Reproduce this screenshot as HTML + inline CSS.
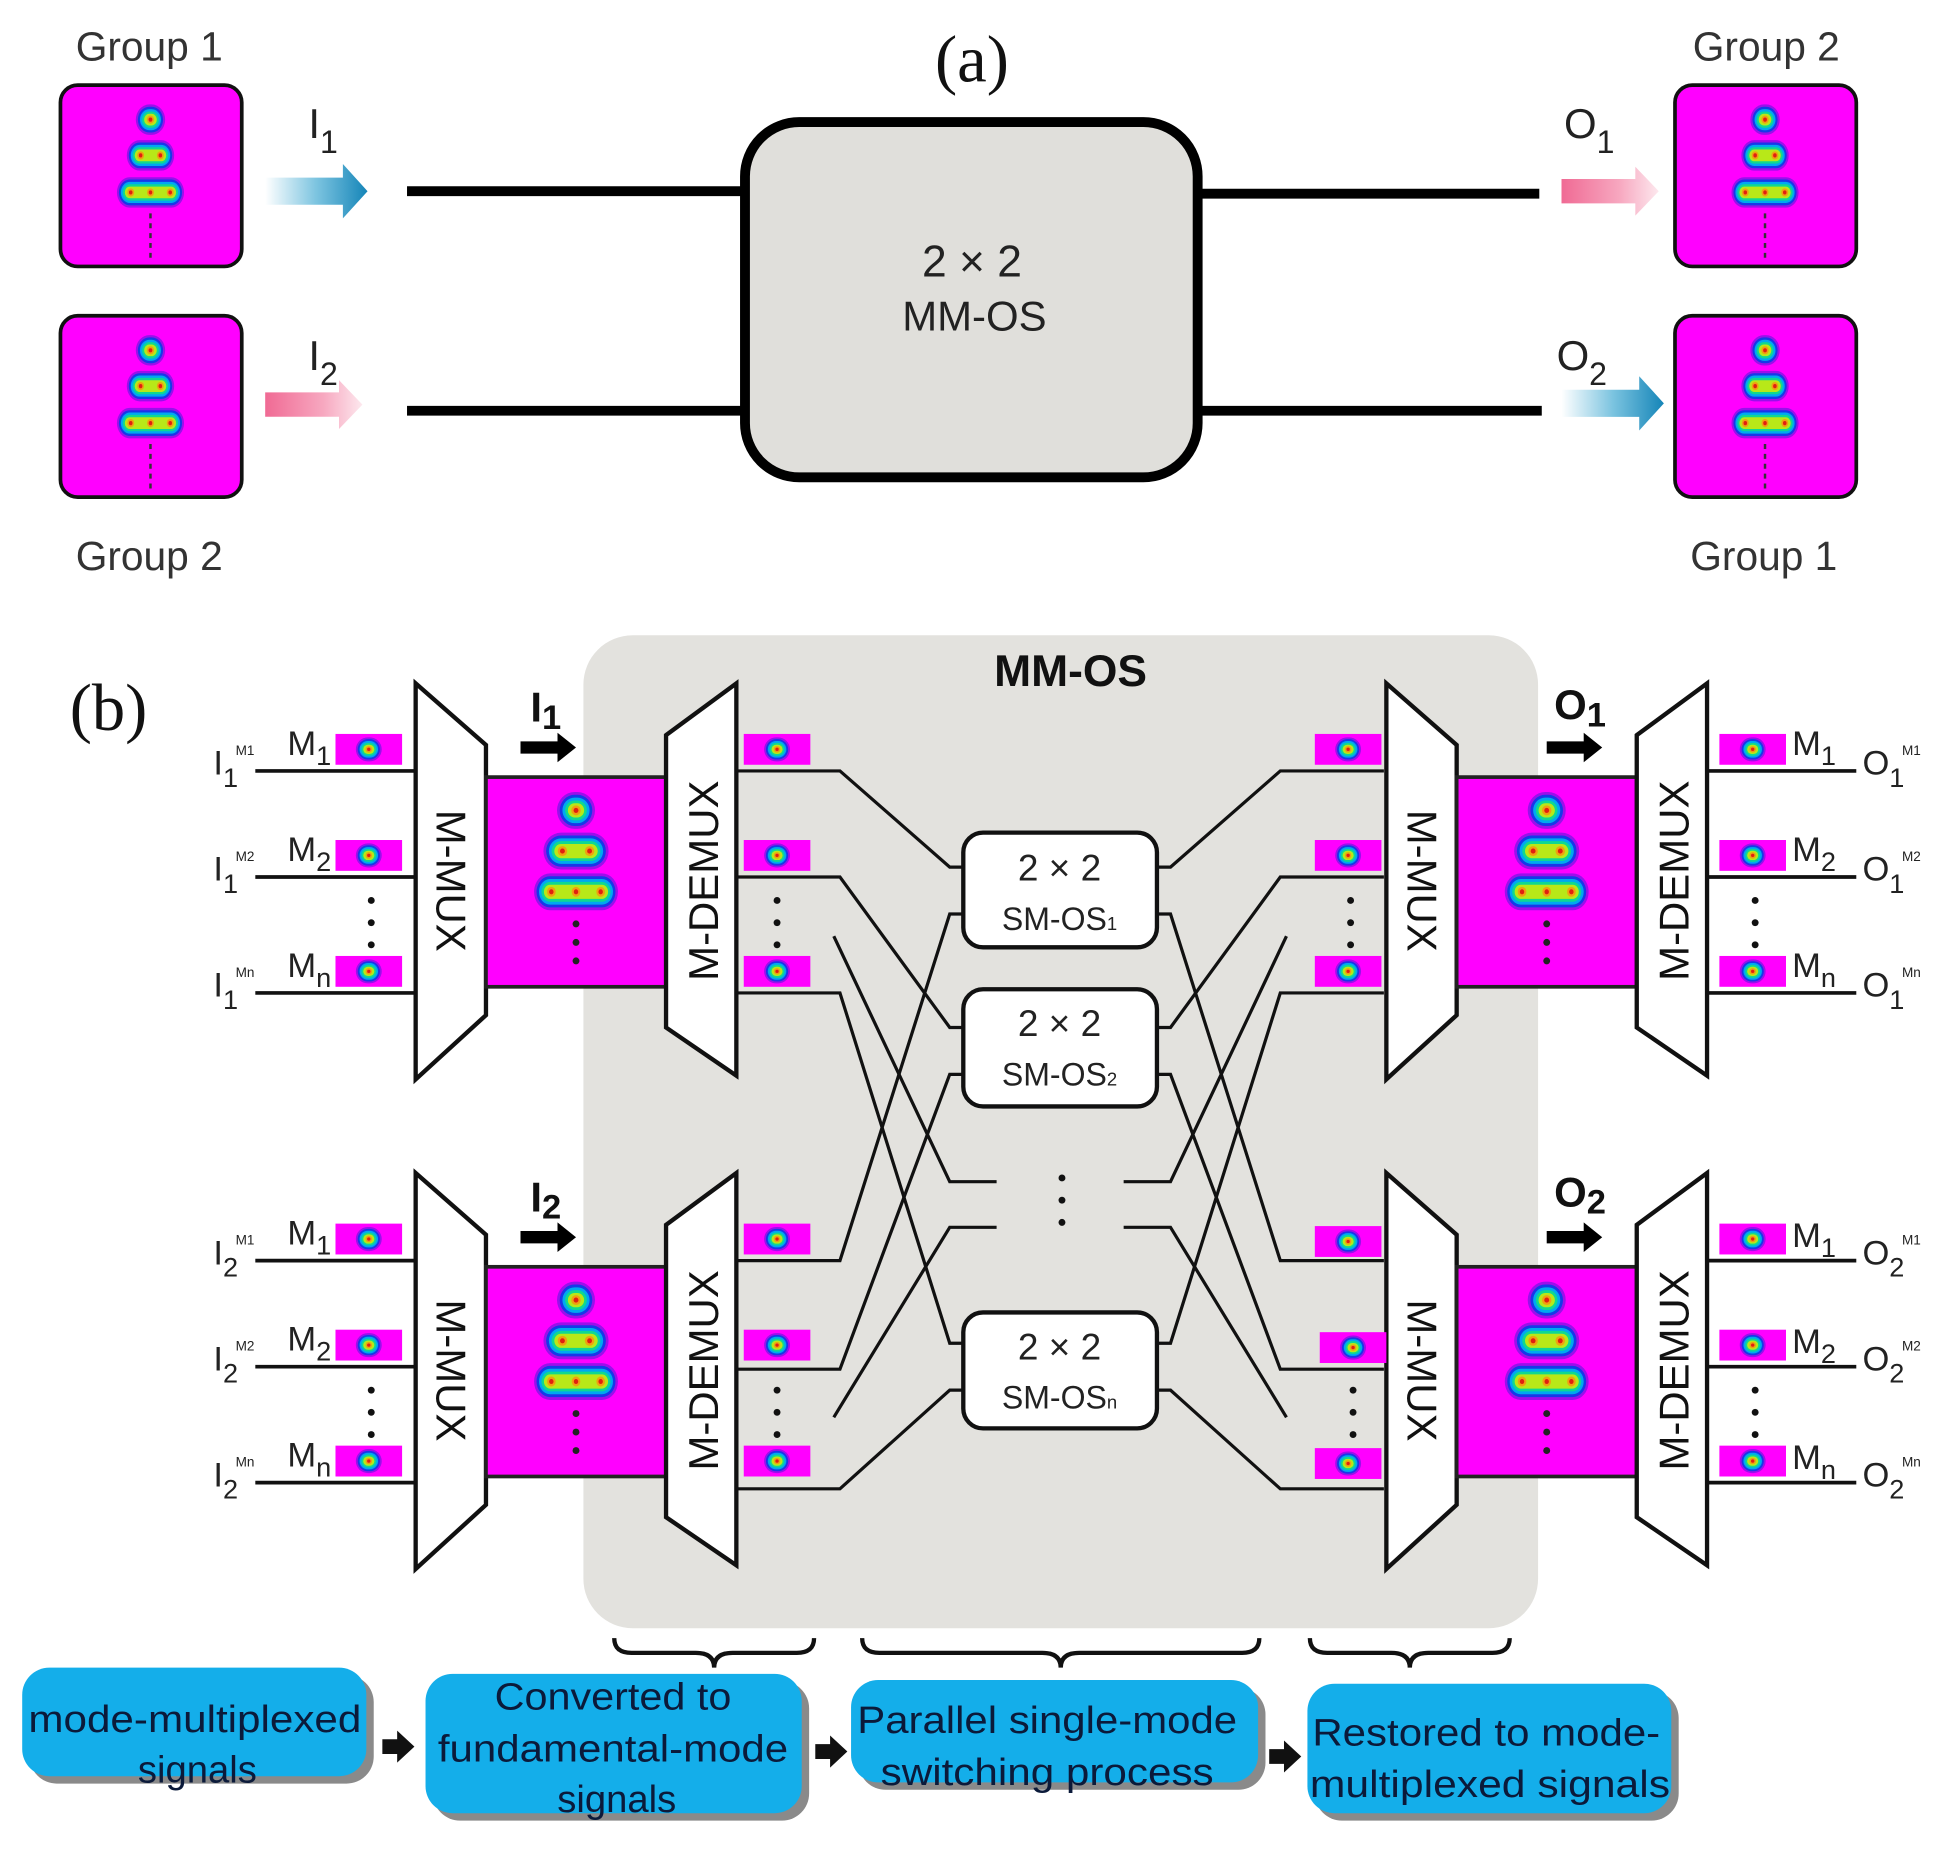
<!DOCTYPE html>
<html><head><meta charset="utf-8"><style>html,body{margin:0;padding:0;background:#fff}svg{display:block}</style></head>
<body>
<svg width="1934" height="1849" viewBox="0 0 1568 1499" preserveAspectRatio="none" xmlns="http://www.w3.org/2000/svg" font-family="'Liberation Sans', sans-serif">
<defs>
<g id="b1">
<rect x="-14" y="-13" width="28" height="26" rx="13" fill="#9a10ea"/>
<rect x="-12" y="-11" width="24" height="22" rx="11" fill="#1838e8"/>
<rect x="-10" y="-9" width="20" height="18" rx="9" fill="#00a8f0"/>
<rect x="-8" y="-7" width="16" height="14" rx="7" fill="#10d890"/>
<rect x="-6" y="-5" width="12" height="10" rx="5" fill="#b8e818"/>
<circle r="3.5" fill="#f0a010"/><circle r="1.8" fill="#e02010"/>
</g>
<g id="b2">
<rect x="-24" y="-13" width="48" height="26" rx="13" fill="#9a10ea"/>
<rect x="-22" y="-11" width="44" height="22" rx="11" fill="#1838e8"/>
<rect x="-20" y="-9" width="40" height="18" rx="9" fill="#00a8f0"/>
<rect x="-18" y="-7" width="36" height="14" rx="7" fill="#10d890"/>
<rect x="-16" y="-5" width="32" height="10" rx="5" fill="#b8e818"/>
<circle cx="-10" r="3.5" fill="#f0a010"/><circle cx="-10" r="1.8" fill="#e02010"/>
<circle cx="10" r="3.5" fill="#f0a010"/><circle cx="10" r="1.8" fill="#e02010"/>
</g>
<g id="b3">
<rect x="-34" y="-13" width="68" height="26" rx="13" fill="#9a10ea"/>
<rect x="-32" y="-11" width="64" height="22" rx="11" fill="#1838e8"/>
<rect x="-30" y="-9" width="60" height="18" rx="9" fill="#00a8f0"/>
<rect x="-28" y="-7" width="56" height="14" rx="7" fill="#10d890"/>
<rect x="-26" y="-5" width="52" height="10" rx="5" fill="#b8e818"/>
<circle cx="-20" r="3.5" fill="#f0a010"/><circle cx="-20" r="1.8" fill="#e02010"/>
<circle cx="0" r="3.5" fill="#f0a010"/><circle cx="0" r="1.8" fill="#e02010"/>
<circle cx="20" r="3.5" fill="#f0a010"/><circle cx="20" r="1.8" fill="#e02010"/>
</g>
<g id="sb">
<rect x="0" y="0" width="54" height="25" fill="#ff00ff"/>
<use href="#b1" transform="translate(27,12.5) scale(0.75)"/>
</g>
<g id="stack">
<use href="#b1" transform="translate(0,0) scale(1.1,1.15)"/>
<use href="#b2" transform="translate(0,33) scale(1.1,1.15)"/>
<use href="#b3" transform="translate(0,66) scale(1.0,1.15)"/>
<circle cx="0" cy="92" r="2.8" fill="#222"/><circle cx="0" cy="107" r="2.8" fill="#222"/><circle cx="0" cy="122" r="2.8" fill="#222"/>
</g>
<g id="astack">
<use href="#b1" transform="translate(0,0) scale(0.85,0.95)"/>
<use href="#b2" transform="translate(0,29) scale(0.8,0.95)"/>
<use href="#b3" transform="translate(0,59) scale(0.8,0.95)"/>
<line x1="0" y1="76" x2="0" y2="112" stroke="#333" stroke-width="2" stroke-dasharray="4,4"/>
</g>
<linearGradient id="gblue" x1="0" x2="1" y1="0" y2="0"><stop offset="0" stop-color="#ffffff"/><stop offset="0.5" stop-color="#7cc4e0"/><stop offset="1" stop-color="#1585b8"/></linearGradient>
<linearGradient id="gpink" x1="0" x2="1" y1="0" y2="0"><stop offset="0" stop-color="#f06a94"/><stop offset="0.6" stop-color="#f7a8c0"/><stop offset="1" stop-color="#fde8ee"/></linearGradient>
<polygon id="arr" points="0,-11 63,-11 63,-22 83,0 63,22 63,11 0,11"/>
<g id="mux">
<polygon points="337,554 394,604 394,823 337,875" fill="#fff" stroke="#111" stroke-width="3.5"/>
<rect x="394" y="630" width="146" height="170" fill="#ff00ff" stroke="#222" stroke-width="3"/>
<polygon points="540,596 597,554 597,872 540,833" fill="#fff" stroke="#111" stroke-width="3.5"/>
<text transform="translate(354,714) rotate(90)" font-size="34" text-anchor="middle" fill="#111">M-MUX</text>
<text transform="translate(582,714) rotate(-90)" font-size="34" text-anchor="middle" fill="#111">M-DEMUX</text>
<use href="#stack" transform="translate(467,657)"/>
</g>
</defs>

<!-- (a) -->
<text x="788" y="66" font-family="'Liberation Serif', serif" font-size="54" text-anchor="middle" fill="#111">(a)</text>
<g font-size="33" fill="#333" text-anchor="middle">
<text x="121" y="49">Group 1</text><text x="121" y="462">Group 2</text>
<text x="1432" y="49">Group 2</text><text x="1430" y="462">Group 1</text>
</g>
<g stroke="#111" stroke-width="3">
<rect x="49" y="69" width="147" height="147" rx="14" fill="#ff00ff"/>
<rect x="49" y="256" width="147" height="147" rx="14" fill="#ff00ff"/>
<rect x="1358" y="69" width="147" height="147" rx="14" fill="#ff00ff"/>
<rect x="1358" y="256" width="147" height="147" rx="14" fill="#ff00ff"/>
</g>
<use href="#astack" transform="translate(122,97)"/>
<use href="#astack" transform="translate(122,284)"/>
<use href="#astack" transform="translate(1431,97)"/>
<use href="#astack" transform="translate(1431,284)"/>
<g stroke="#000" stroke-width="8">
<line x1="330" y1="155" x2="605" y2="155"/><line x1="330" y1="333" x2="605" y2="333"/>
<line x1="970" y1="157" x2="1248" y2="157"/><line x1="970" y1="333" x2="1250" y2="333"/>
</g>
<rect x="604" y="99" width="367" height="288" rx="44" fill="#e0dfdb" stroke="#000" stroke-width="8"/>
<text x="788" y="224" font-size="36" text-anchor="middle" fill="#222">2 × 2</text>
<text x="790" y="268" font-size="34" text-anchor="middle" fill="#222">MM-OS</text>
<use href="#arr" transform="translate(215,155)" fill="url(#gblue)"/>
<use href="#arr" transform="translate(215,328) scale(0.95,0.9)" fill="url(#gpink)"/>
<use href="#arr" transform="translate(1266,155) scale(0.95,0.9)" fill="url(#gpink)"/>
<use href="#arr" transform="translate(1266,327)" fill="url(#gblue)"/>
<g font-size="34" fill="#222">
<text x="250" y="112">I<tspan font-size="26" dy="12">1</tspan></text>
<text x="250" y="300">I<tspan font-size="26" dy="12">2</tspan></text>
<text x="1268" y="112">O<tspan font-size="26" dy="12">1</tspan></text>
<text x="1262" y="300">O<tspan font-size="26" dy="12">2</tspan></text>
</g>

<!-- (b) -->
<rect x="473" y="515" width="774" height="805" rx="40" fill="#e3e2de"/>
<text x="868" y="556" font-size="36" font-weight="bold" text-anchor="middle" fill="#111">MM-OS</text>
<text x="88" y="592" font-family="'Liberation Serif', serif" font-size="54" text-anchor="middle" fill="#111">(b)</text>

<g id="conn" fill="none" stroke="#111" stroke-width="2.6">
<path d="M597,625 H681 L770,703 H781"/>
<path d="M597,711 H681 L770,833 H781"/>
<path d="M597,805 H681 L770,1089 H781"/>
<path d="M676,759 L770,958 H808"/>
<path d="M597,1022 H681 L770,741 H781"/>
<path d="M597,1110 H681 L770,871 H781"/>
<path d="M597,1207 H681 L770,1127 H781"/>
<path d="M676,1149 L770,995 H808"/>
</g>
<use href="#conn" transform="translate(1719,0) scale(-1,1)"/>

<g stroke="#111" stroke-width="3.5" fill="#fff">
<rect x="781" y="675" width="157" height="93" rx="16"/>
<rect x="781" y="802" width="157" height="95" rx="16"/>
<rect x="781" y="1064" width="157" height="94" rx="16"/>
</g>
<g font-size="30" text-anchor="middle" fill="#222">
<text x="859" y="714">2 × 2</text><text x="859" y="754" font-size="26">SM-OS<tspan font-size="15">1</tspan></text>
<text x="859" y="840">2 × 2</text><text x="859" y="880" font-size="26">SM-OS<tspan font-size="15">2</tspan></text>
<text x="859" y="1102">2 × 2</text><text x="859" y="1142" font-size="26">SM-OS<tspan font-size="15">n</tspan></text>
</g>
<g fill="#111"><circle cx="861" cy="955" r="2.8"/><circle cx="861" cy="973" r="2.8"/><circle cx="861" cy="991" r="2.8"/></g>

<g id="sec">
<g stroke="#111" stroke-width="3">
<line x1="207" y1="625" x2="337" y2="625"/><line x1="207" y1="711" x2="337" y2="711"/><line x1="207" y1="805" x2="337" y2="805"/>
</g>
<use href="#sb" transform="translate(272,595)"/><use href="#sb" transform="translate(272,681)"/><use href="#sb" transform="translate(272,775)"/>
<use href="#sb" transform="translate(603,595)"/><use href="#sb" transform="translate(603,681)"/><use href="#sb" transform="translate(603,775)"/>
<g fill="#111"><circle cx="301" cy="730" r="2.8"/><circle cx="301" cy="748" r="2.8"/><circle cx="301" cy="766" r="2.8"/>
<circle cx="630" cy="730" r="2.8"/><circle cx="630" cy="748" r="2.8"/><circle cx="630" cy="766" r="2.8"/></g>
<use href="#mux"/>
<polygon points="422,601 452,601 452,594 467,606 452,618 452,611 422,611" fill="#000"/>
</g>
<use href="#sec" transform="translate(0,397)"/>
<g transform="translate(787,0)">
<g stroke="#111" stroke-width="3">
<line x1="597" y1="625" x2="718" y2="625"/><line x1="597" y1="711" x2="718" y2="711"/><line x1="597" y1="805" x2="718" y2="805"/>
<line x1="597" y1="1022" x2="718" y2="1022"/><line x1="597" y1="1108" x2="718" y2="1108"/><line x1="597" y1="1202" x2="718" y2="1202"/>
</g>
<use href="#sb" transform="translate(607,595)"/><use href="#sb" transform="translate(607,681)"/><use href="#sb" transform="translate(607,775)"/>
<use href="#sb" transform="translate(607,992)"/><use href="#sb" transform="translate(607,1078)"/><use href="#sb" transform="translate(607,1172)"/>
<g fill="#111"><circle cx="636" cy="730" r="2.8"/><circle cx="636" cy="748" r="2.8"/><circle cx="636" cy="766" r="2.8"/>
<circle cx="636" cy="1127" r="2.8"/><circle cx="636" cy="1145" r="2.8"/><circle cx="636" cy="1163" r="2.8"/></g>
<use href="#mux"/><use href="#mux" transform="translate(0,397)"/>
<polygon points="467,601 497,601 497,594 512,606 497,618 497,611 467,611" fill="#000"/>
<polygon points="467,998 497,998 497,991 512,1003 497,1015 497,1008 467,1008" fill="#000"/>
</g>
<use href="#sb" transform="translate(1066,595)"/><use href="#sb" transform="translate(1066,681)"/><use href="#sb" transform="translate(1066,775)"/>
<use href="#sb" transform="translate(1066,994)"/><use href="#sb" transform="translate(1070,1080)"/><use href="#sb" transform="translate(1066,1174)"/>
<g fill="#111"><circle cx="1095" cy="730" r="2.8"/><circle cx="1095" cy="748" r="2.8"/><circle cx="1095" cy="766" r="2.8"/>
<circle cx="1097" cy="1127" r="2.8"/><circle cx="1097" cy="1145" r="2.8"/><circle cx="1097" cy="1163" r="2.8"/></g>

<g fill="#222" font-size="28">
<text x="233" y="612">M<tspan font-size="22" dy="8">1</tspan></text>
<text x="233" y="698">M<tspan font-size="22" dy="8">2</tspan></text>
<text x="233" y="792">M<tspan font-size="22" dy="8">n</tspan></text>
<text x="233" y="1009">M<tspan font-size="22" dy="8">1</tspan></text>
<text x="233" y="1095">M<tspan font-size="22" dy="8">2</tspan></text>
<text x="233" y="1189">M<tspan font-size="22" dy="8">n</tspan></text>
<text x="1453" y="612">M<tspan font-size="22" dy="8">1</tspan></text>
<text x="1453" y="698">M<tspan font-size="22" dy="8">2</tspan></text>
<text x="1453" y="792">M<tspan font-size="22" dy="8">n</tspan></text>
<text x="1453" y="1011">M<tspan font-size="22" dy="8">1</tspan></text>
<text x="1453" y="1097">M<tspan font-size="22" dy="8">2</tspan></text>
<text x="1453" y="1191">M<tspan font-size="22" dy="8">n</tspan></text>
</g>
<g fill="#222" font-size="28">
<text x="173" y="628">I<tspan font-size="22" dy="10">1</tspan><tspan font-size="11" dx="-2" dy="-26">M1</tspan></text>
<text x="173" y="714">I<tspan font-size="22" dy="10">1</tspan><tspan font-size="11" dx="-2" dy="-26">M2</tspan></text>
<text x="173" y="808">I<tspan font-size="22" dy="10">1</tspan><tspan font-size="11" dx="-2" dy="-26">Mn</tspan></text>
<text x="173" y="1025">I<tspan font-size="22" dy="10">2</tspan><tspan font-size="11" dx="-2" dy="-26">M1</tspan></text>
<text x="173" y="1111">I<tspan font-size="22" dy="10">2</tspan><tspan font-size="11" dx="-2" dy="-26">M2</tspan></text>
<text x="173" y="1205">I<tspan font-size="22" dy="10">2</tspan><tspan font-size="11" dx="-2" dy="-26">Mn</tspan></text>
<text x="1510" y="628">O<tspan font-size="22" dy="10">1</tspan><tspan font-size="11" dx="-2" dy="-26">M1</tspan></text>
<text x="1510" y="714">O<tspan font-size="22" dy="10">1</tspan><tspan font-size="11" dx="-2" dy="-26">M2</tspan></text>
<text x="1510" y="808">O<tspan font-size="22" dy="10">1</tspan><tspan font-size="11" dx="-2" dy="-26">Mn</tspan></text>
<text x="1510" y="1025">O<tspan font-size="22" dy="10">2</tspan><tspan font-size="11" dx="-2" dy="-26">M1</tspan></text>
<text x="1510" y="1111">O<tspan font-size="22" dy="10">2</tspan><tspan font-size="11" dx="-2" dy="-26">M2</tspan></text>
<text x="1510" y="1205">O<tspan font-size="22" dy="10">2</tspan><tspan font-size="11" dx="-2" dy="-26">Mn</tspan></text>
</g>
<g fill="#111" font-size="34" font-weight="bold">
<text x="430" y="585">I<tspan font-size="28" dy="6">1</tspan></text>
<text x="430" y="982">I<tspan font-size="28" dy="6">2</tspan></text>
<text x="1260" y="583">O<tspan font-size="28" dy="6">1</tspan></text>
<text x="1260" y="978">O<tspan font-size="28" dy="6">2</tspan></text>
</g>

<g fill="none" stroke="#111" stroke-width="3.5">
<path d="M498,1328 q0,12 14,12 h52 q15,0 15,12 q0,-12 15,-12 h52 q14,0 14,-12"/>
<path d="M699,1328 q0,12 14,12 h132 q15,0 15,12 q0,-12 15,-12 h132 q14,0 14,-12"/>
<path d="M1062,1328 q0,12 14,12 h52 q15,0 15,12 q0,-12 15,-12 h52 q14,0 14,-12"/>
</g>

<g fill="#8a8a8a">
<rect x="24" y="1358" width="279" height="88" rx="22"/>
<rect x="351" y="1363" width="305" height="113" rx="22"/>
<rect x="696" y="1368" width="330" height="83" rx="22"/>
<rect x="1066" y="1371" width="295" height="105" rx="22"/>
</g>
<g fill="#14aeea">
<rect x="18" y="1352" width="279" height="88" rx="22"/>
<rect x="345" y="1357" width="305" height="113" rx="22"/>
<rect x="690" y="1362" width="330" height="83" rx="22"/>
<rect x="1060" y="1365" width="295" height="105" rx="22"/>
</g>
<g fill="#0b1a3a" font-size="31" text-anchor="middle">
<text x="158" y="1404" textLength="270" lengthAdjust="spacingAndGlyphs">mode-multiplexed</text>
<text x="160" y="1445">signals</text>
<text x="497" y="1386" textLength="192" lengthAdjust="spacingAndGlyphs">Converted to</text>
<text x="497" y="1428" textLength="284" lengthAdjust="spacingAndGlyphs">fundamental-mode</text>
<text x="500" y="1469">signals</text>
<text x="849" y="1405" textLength="308" lengthAdjust="spacingAndGlyphs">Parallel single-mode</text>
<text x="849" y="1447" textLength="270" lengthAdjust="spacingAndGlyphs">switching process</text>
<text x="1205" y="1415" textLength="282" lengthAdjust="spacingAndGlyphs">Restored to mode-</text>
<text x="1208" y="1457" textLength="292" lengthAdjust="spacingAndGlyphs">multiplexed signals</text>
</g>
<g fill="#111">
<polygon points="310,1410 322,1410 322,1403 336,1416 322,1429 322,1422 310,1422"/>
<polygon points="661,1414 673,1414 673,1407 687,1420 673,1433 673,1426 661,1426"/>
<polygon points="1029,1418 1041,1418 1041,1411 1055,1424 1041,1437 1041,1430 1029,1430"/>
</g>
</svg>
</body></html>
